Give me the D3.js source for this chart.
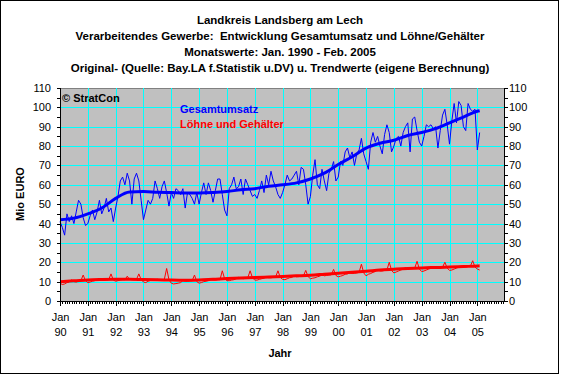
<!DOCTYPE html>
<html>
<head>
<meta charset="utf-8">
<script src="https://cdn.jsdelivr.net/npm/d3@7"></script>
<style>
  html, body { margin: 0; padding: 0; background: #ffffff; }
  svg { display: block; font-family: Arial, "Liberation Sans", sans-serif; }
</style>
</head>
<body>
<svg id="chart" width="561" height="375"></svg>
<script>
// Title lines, as in the original chart.
const titleLines = [
  'Landkreis Landsberg am Lech',
  'Verarbeitendes Gewerbe:  Entwicklung Gesamtumsatz und Löhne/Gehälter',
  'Monatswerte: Jan. 1990 - Feb. 2005',
  'Original- (Quelle: Bay.LA f.Statistik u.DV) u. Trendwerte (eigene Berechnung)'
];

// X tick labels (one per January, month index 0 = Jan 1990).
const yearTicks  = [ 0, 12, 24, 36, 48, 60, 72, 84, 96, 108, 120, 132, 144, 156, 168, 180 ];
const yearLabels = [ '90','91','92','93','94','95','96','97','98','99','00','01','02','03','04','05' ];
const yTicks     = [ 0, 10, 20, 30, 40, 50, 60, 70, 80, 90, 100, 110 ];

// Gesamtumsatz, monthly, Mio EURO (Jan 1990 - Feb 2005).
const umsatz = [
  41, 38, 34, 45, 41, 44, 40, 46, 52, 50, 43, 39,        // 1990
  40, 44, 47, 42, 46, 52, 45, 48, 53, 46, 48, 41,        // 1991
  48, 54, 62, 64, 60, 66, 62, 50, 63, 66, 62, 52,        // 1992
  42, 47, 52, 50, 53, 62, 58, 53, 59, 62, 56, 49,        // 1993
  56, 53, 58, 57, 55, 58, 48, 56, 55, 53, 50, 56,        // 1994
  50, 56, 61, 55, 61, 57, 51, 57, 63, 63, 55, 47,        // 1995
  44, 58, 60, 64, 58, 59, 63, 55, 63, 60, 57, 54,        // 1996
  55, 53, 57, 62, 56, 65, 60, 67, 62, 59, 55, 53,        // 1997
  56, 60, 65, 62, 63, 65, 67, 60, 69, 68, 60, 50,        // 1998
  54, 65, 73, 60, 58, 68, 62, 57, 66, 68, 72, 62,        // 1999
  64, 72, 70, 77, 79, 74, 77, 70, 76, 78, 84, 76,        // 2000
  72, 68, 82, 87, 82, 85, 80, 76, 86, 91, 87, 77,        // 2001
  80, 84, 85, 80, 87, 90, 92, 77, 94, 95, 88, 82,        // 2002
  80, 85, 91, 90, 91, 89, 90, 79, 88, 96, 99, 91,        // 2003
  81, 93, 102, 92, 103, 101, 90, 88, 102, 99, 98, 99,    // 2004
  78, 87                                                 // 2005
];

// Löhne und Gehälter, monthly, Mio EURO.
const loehne = [
  9.2, 8.5, 8.8, 9.5, 9.8, 11.0, 10.0, 9.8, 10.2, 10.5, 13.4, 10.5,
  9.5, 9.8, 10.2, 10.5, 10.8, 11.5, 10.8, 10.6, 10.8, 11.0, 14.0, 10.8,
  10.2, 10.5, 10.8, 11.0, 11.0, 12.8, 11.2, 11.0, 11.0, 11.2, 14.0, 11.0,
  9.8, 9.5, 10.2, 10.6, 10.8, 11.0, 11.2, 11.0, 11.0, 11.2, 16.8, 11.0,
  9.2, 8.8, 9.0, 9.2, 9.5, 10.5, 10.2, 10.2, 10.4, 10.5, 13.4, 10.0,
  9.2, 9.5, 10.0, 10.2, 10.5, 11.0, 10.8, 10.8, 11.0, 11.0, 15.6, 11.5,
  10.5, 10.5, 10.8, 11.0, 11.5, 12.2, 11.8, 11.5, 11.8, 12.0, 15.6, 12.0,
  10.8, 10.8, 11.2, 11.5, 11.8, 12.5, 12.0, 12.0, 12.2, 12.4, 15.6, 12.2,
  11.2, 11.0, 11.5, 12.0, 12.2, 13.0, 12.5, 12.6, 12.8, 13.0, 15.8, 12.6,
  11.5, 11.8, 12.0, 12.5, 12.8, 13.5, 13.0, 13.2, 13.4, 13.5, 16.3, 13.2,
  12.5, 12.8, 13.2, 13.8, 14.0, 14.5, 14.2, 14.3, 14.5, 14.8, 19.0, 14.5,
  13.0, 13.8, 14.2, 14.8, 15.2, 16.2, 15.5, 15.5, 15.8, 16.0, 20.0, 15.8,
  14.5, 15.0, 15.5, 16.0, 16.5, 17.2, 16.5, 16.8, 16.8, 17.0, 20.5, 16.5,
  15.2, 15.5, 16.0, 16.5, 17.0, 17.6, 17.0, 17.2, 17.2, 17.5, 20.0, 17.0,
  15.8, 16.0, 16.5, 17.0, 17.5, 18.0, 17.5, 17.5, 17.8, 18.0, 20.8, 17.5,
  16.5, 16.0
];

// Trend values (half-yearly read-offs), month indexes they belong to.
const trendMonths  = [ 0, 6, 12, 18, 24, 30, 36, 42, 48, 54, 60, 66, 72, 78, 84, 90,
                       96, 102, 108, 114, 120, 126, 132, 138, 144, 150, 156, 162, 168, 174, 180, 181 ];
const trendUmsatz  = [ 42, 42.8, 45, 48, 53, 56.3, 56.5, 56.2, 56, 55.8, 55.8, 56, 56.5, 57.5, 58, 59.3,
                       60, 61, 63, 66, 70.5, 74.5, 79, 81.5, 83, 85.5, 87, 89, 92, 95, 98, 98.3 ];
const trendLoehne  = [ 10, 10.4, 10.9, 11.1, 11.2, 11.2, 11.1, 11, 10.8, 10.7, 10.8, 11.2, 11.6, 11.9, 12.1, 12.4,
                       12.7, 13, 13.3, 13.8, 14.3, 14.9, 15.4, 16, 16.4, 16.8, 17.1, 17.3, 17.5, 17.8, 18.1, 18.2 ];

// Plot frame.
const plot = { left: 60, right: 504, top: 88, bottom: 301 };

const svg = d3.select( '#chart' );

const x = d3.scaleLinear( )
  .domain( [ 0, 191.5 ] )
  .range( [ plot.left, plot.right ] );
const y = d3.scaleLinear( )
  .domain( [ 0, 110 ] )
  .range( [ plot.bottom, plot.top ] );

// Outer frame of the chart area.
svg.append( 'rect' )
  .attr( 'x', 0.5 ).attr( 'y', 0.5 )
  .attr( 'width', 558 ).attr( 'height', 373 )
  .attr( 'fill', '#ffffff' ).attr( 'stroke', '#000000' );

// Titles (white-space kept, the second line has a double space).
svg.append( 'g' ).selectAll( 'text' )
  .data( titleLines )
  .enter( ).append( 'text' )
    .attr( 'x'          , 280 )
    .attr( 'y'          , ( d, i ) => 24 + i * 16 )
    .attr( 'text-anchor', 'middle' )
    .attr( 'font-size'  , 11.5 )
    .attr( 'font-weight', 'bold' )
    .style( 'white-space', 'pre' )
    .text( d => d );

// Plot background.
svg.append( 'rect' )
  .attr( 'x', plot.left ).attr( 'y', plot.top )
  .attr( 'width', plot.right - plot.left ).attr( 'height', plot.bottom - plot.top )
  .attr( 'fill', '#c0c0c0' );
svg.append( 'line' )
  .attr( 'x1', plot.left ).attr( 'x2', plot.right )
  .attr( 'y1', plot.top + 0.5 ).attr( 'y2', plot.top + 0.5 )
  .attr( 'stroke', '#808080' );

// Gridlines.
const grid = svg.append( 'g' ).attr( 'stroke', '#00ffff' ).attr( 'shape-rendering', 'crispEdges' );
grid.selectAll( '.hgrid' )
  .data( yTicks.slice( 1, -1 ) )
  .enter( ).append( 'line' )
    .attr( 'x1', plot.left ).attr( 'x2', plot.right )
    .attr( 'y1', d => Math.round( y( d ) ) + 0.5 ).attr( 'y2', d => Math.round( y( d ) ) + 0.5 );
grid.selectAll( '.vgrid' )
  .data( yearTicks.slice( 1 ) )
  .enter( ).append( 'line' )
    .attr( 'y1', plot.top ).attr( 'y2', plot.bottom )
    .attr( 'x1', d => Math.round( x( d ) ) + 0.5 ).attr( 'x2', d => Math.round( x( d ) ) + 0.5 );

// Lines.
const rawLine   = d3.line( ).x( ( d, i ) => x( i ) ).y( d => y( d ) );
const trendLine = d3.line( ).x( ( d, i ) => x( trendMonths[i] ) ).y( d => y( d ) ).curve( d3.curveMonotoneX );

svg.append( 'path' ).datum( loehne )
  .attr( 'd', rawLine ).attr( 'fill', 'none' ).attr( 'stroke', '#ff0000' ).attr( 'stroke-width', 1 );
svg.append( 'path' ).datum( trendLoehne )
  .attr( 'd', trendLine ).attr( 'fill', 'none' ).attr( 'stroke', '#ff0000' ).attr( 'stroke-width', 3 );
svg.append( 'path' ).datum( umsatz )
  .attr( 'd', rawLine ).attr( 'fill', 'none' ).attr( 'stroke', '#0000ff' ).attr( 'stroke-width', 1 );
svg.append( 'path' ).datum( trendUmsatz )
  .attr( 'd', trendLine ).attr( 'fill', 'none' ).attr( 'stroke', '#0000ff' ).attr( 'stroke-width', 3 );

// Axes.
const minorY = d3.range( 0, 111, 5 );
const yLeft = d3.axisLeft( y ).tickValues( yTicks ).tickSize( 0 ).tickPadding( 9 ).tickFormat( d => d );
const yRight = d3.axisRight( y ).tickValues( yTicks ).tickSize( 0 ).tickPadding( 5 ).tickFormat( d => d );

function styleAxis ( g ) {
  g.attr( 'font-family', null ).attr( 'font-size', 11 );
  g.select( '.domain' ).remove( );
  g.selectAll( 'text' ).attr( 'fill', '#000000' );
}

svg.append( 'g' ).attr( 'transform', `translate(${plot.left},0)` ).call( yLeft ).call( styleAxis );
svg.append( 'g' ).attr( 'transform', `translate(${plot.right},0)` ).call( yRight ).call( styleAxis );

const axes = svg.append( 'g' ).attr( 'stroke', '#000000' ).attr( 'shape-rendering', 'crispEdges' );
axes.append( 'line' ).attr( 'x1', plot.left + 0.5 ).attr( 'x2', plot.left + 0.5 ).attr( 'y1', plot.top ).attr( 'y2', plot.bottom + 1 );
axes.append( 'line' ).attr( 'x1', plot.right + 0.5 ).attr( 'x2', plot.right + 0.5 ).attr( 'y1', plot.top ).attr( 'y2', plot.bottom + 1 );
axes.append( 'line' ).attr( 'x1', plot.left ).attr( 'x2', plot.right + 1 ).attr( 'y1', plot.bottom + 0.5 ).attr( 'y2', plot.bottom + 0.5 );
axes.selectAll( '.ltick' ).data( minorY ).enter( ).append( 'line' )
  .attr( 'x1', plot.left - 3 ).attr( 'x2', plot.left )
  .attr( 'y1', d => Math.round( y( d ) ) + 0.5 ).attr( 'y2', d => Math.round( y( d ) ) + 0.5 );
axes.selectAll( '.rtick' ).data( minorY ).enter( ).append( 'line' )
  .attr( 'x1', plot.right + 1 ).attr( 'x2', plot.right + 4 )
  .attr( 'y1', d => Math.round( y( d ) ) + 0.5 ).attr( 'y2', d => Math.round( y( d ) ) + 0.5 );
axes.selectAll( '.mtick' ).data( d3.range( 0, 192 ) ).enter( ).append( 'line' )
  .attr( 'x1', d => Math.round( x( d ) ) + 0.5 ).attr( 'x2', d => Math.round( x( d ) ) + 0.5 )
  .attr( 'y1', plot.bottom ).attr( 'y2', d => plot.bottom + ( yearTicks.includes( d ) ? 5 : 3 ) );

// X labels: "Jan" over the two-digit year.
const xLabels = svg.append( 'g' ).attr( 'font-size', 11 ).attr( 'text-anchor', 'middle' );
xLabels.selectAll( '.jan' ).data( yearTicks ).enter( ).append( 'text' )
  .attr( 'x', d => x( d ) + 0.5 ).attr( 'y', 321 ).text( 'Jan' );
xLabels.selectAll( '.yr' ).data( yearTicks ).enter( ).append( 'text' )
  .attr( 'x', d => x( d ) + 0.5 ).attr( 'y', 336 ).text( ( d, i ) => yearLabels[i] );

// Axis titles.
svg.append( 'text' )
  .attr( 'x', 280 ).attr( 'y', 357 )
  .attr( 'text-anchor', 'middle' ).attr( 'font-size', 11 ).attr( 'font-weight', 'bold' )
  .text( 'Jahr' );
svg.append( 'text' )
  .attr( 'transform', 'translate(24,194) rotate(-90)' )
  .attr( 'text-anchor', 'middle' ).attr( 'font-size', 11 ).attr( 'font-weight', 'bold' )
  .text( 'Mio EURO' );

// Labels inside the plot.
svg.append( 'text' )
  .attr( 'x', 62 ).attr( 'y', 102 ).attr( 'font-size', 11 ).attr( 'font-weight', 'bold' )
  .text( '© StratCon' );
svg.append( 'text' )
  .attr( 'x', 180 ).attr( 'y', 113 ).attr( 'font-size', 11 ).attr( 'font-weight', 'bold' ).attr( 'fill', '#0000ff' )
  .text( 'Gesamtumsatz' );
svg.append( 'text' )
  .attr( 'x', 180 ).attr( 'y', 128 ).attr( 'font-size', 11 ).attr( 'font-weight', 'bold' ).attr( 'fill', '#ff0000' )
  .text( 'Löhne und Gehälter' );
</script>
</body>
</html>
